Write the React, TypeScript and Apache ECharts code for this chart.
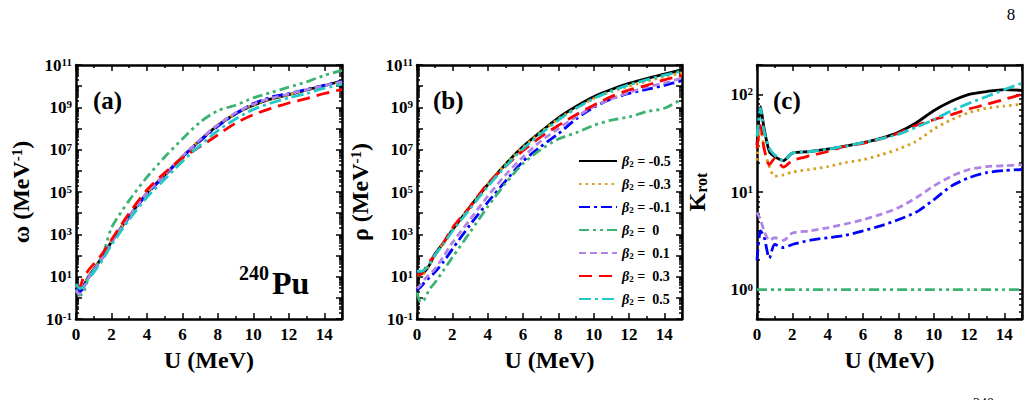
import React, { useEffect, useRef } from 'react';
import * as echarts from 'echarts';

// Excitation energy grid U (MeV)
const energies = [0, 0.2, 0.4, 0.7, 1, 1.5, 2, 3, 4, 5, 6, 7, 8, 9, 10, 11, 12, 13, 14, 15];

// Quadrupole deformations
const betaLabels = ['-0.5', '-0.3', '-0.1', '0', '0.1', '0.3', '0.5'];
const seriesNames = betaLabels.map((b) => `β2 = ${b}`);
const lineColors = ['#000000', '#d6a01e', '#0000ff', '#3cb371', '#b084e6', '#ff0000', '#20c8c8'];
const lineDashes: (string | number[])[] = ['solid', [2.5, 4], [11, 4, 3, 4], [10, 4, 3, 4, 3, 4], [7, 4], [13, 7], [12, 4, 3, 4]];

// (a) intrinsic level density ω (MeV^-1)
const omegaM05 = [4, 2, 3.2, 10, 22, 89, 450, 7.1e3, 8.9e4, 6.3e5, 4.5e6, 2.8e7, 1.4e8, 5e8, 1.26e9, 2.5e9, 4e9, 6.6e9, 1.05e10, 1.8e10];
const omegaM03 = [4, 2, 3, 10, 22, 90, 480, 7.5e3, 9.5e4, 7e5, 5e6, 3e7, 1.5e8, 5e8, 1.3e9, 2.5e9, 4e9, 6.5e9, 1e10, 1.6e10];
const omegaM01 = [3, 1.8, 3, 9, 20, 80, 420, 6.5e3, 8e4, 6e5, 4.5e6, 2.6e7, 1.3e8, 5e8, 1.5e9, 3e9, 4.5e9, 7e9, 1.1e10, 1.7e10];
const omegaP00 = [2.5, 1.3, 1.6, 8, 20, 100, 2e3, 4e4, 5e5, 4.5e6, 3.2e7, 2e8, 7e8, 1.26e9, 2.8e9, 5e9, 9e9, 1.6e10, 3.2e10, 5.6e10];
const omegaP01 = [2.2, 1.5, 2.5, 9, 20, 80, 420, 7e3, 9e4, 6.5e5, 4.8e6, 3e7, 1.5e8, 5.5e8, 1.4e9, 2.7e9, 4.2e9, 6.8e9, 1.05e10, 1.6e10];
const omegaP03 = [4, 3.2, 8, 20, 40, 126, 560, 1e4, 1.26e5, 8e5, 4e6, 1.4e7, 5e7, 1.8e8, 4.5e8, 9e8, 1.6e9, 2.6e9, 4.5e9, 7e9];
const omegaP05 = [4.5, 2.8, 3.2, 8, 16, 63, 320, 5e3, 5.6e4, 4e5, 2.8e6, 1.6e7, 8e7, 2.8e8, 8e8, 1.6e9, 2.8e9, 4.5e9, 8e9, 1.26e10];

// (b) total level density ρ (MeV^-1)
const rhoM05 = [14, 14, 16, 35, 112, 400, 1.6e3, 2e4, 2.2e5, 2e6, 1.4e7, 7e7, 3.2e8, 1.1e9, 3.2e9, 7e9, 1.35e10, 2.3e10, 3.7e10, 6e10];
const rhoM03 = [12, 12, 14, 32, 100, 400, 1.6e3, 2e4, 2.2e5, 2e6, 1.3e7, 6.5e7, 2.8e8, 9e8, 2.6e9, 5.5e9, 1e10, 1.7e10, 2.8e10, 4.2e10];
const rhoM01 = [2.2, 3.2, 5, 9, 16, 50, 200, 2.8e3, 3.2e4, 3.2e5, 2.8e6, 1.4e7, 5.6e7, 2.8e8, 1e9, 2.5e9, 4.5e9, 7e9, 1.1e10, 1.8e10];
const rhoP00 = [1.8, 0.63, 0.8, 2.5, 5, 20, 80, 1.26e3, 2e4, 2.5e5, 2.2e6, 1e7, 3.2e7, 6.3e7, 1.4e8, 2.5e8, 3.5e8, 6.3e8, 9e8, 2.5e9];
const rhoP01 = [2.8, 4, 7, 12.6, 22, 90, 400, 5e3, 6.3e4, 6.3e5, 4.5e6, 2.5e7, 1e8, 3.5e8, 1.1e9, 2.5e9, 5e9, 9e9, 1.4e10, 2.4e10];
const rhoP03 = [12.6, 12.6, 20, 50, 100, 400, 2e3, 2e4, 2.5e5, 1.6e6, 9e6, 4e7, 1.4e8, 4.5e8, 1.26e9, 3.2e9, 6.6e9, 1.1e10, 2e10, 3.2e10];
const rhoP05 = [18, 18, 20, 40, 100, 350, 1.4e3, 1.6e4, 1.8e5, 1.6e6, 1.1e7, 5.6e7, 2.5e8, 8.9e8, 2.6e9, 6e9, 1.15e10, 2e10, 3.3e10, 5.2e10];

// (c) rotational enhancement factor K_rot
const krotM05 = [30, 75, 45, 26, 23, 21, 25, 26, 27.5, 29.5, 32, 35.5, 41, 51, 68, 85, 100, 107, 112, 110];
const krotM03 = [21, 49, 28, 18, 14.5, 15, 16, 17, 18.2, 20, 21.4, 24, 27.5, 33, 44, 55, 65, 72, 76, 79];
const krotM01 = [2.0, 4, 3.5, 2.1, 2.9, 2.7, 2.9, 3.2, 3.4, 3.6, 4, 4.5, 5.2, 6.2, 8.3, 11.5, 14, 15.8, 16.6, 17];
const krotP00 = [1, 1, 1, 1, 1, 1, 1, 1, 1, 1, 1, 1, 1, 1, 1, 1, 1, 1, 1, 1];
const krotP01 = [6.2, 5.2, 4, 3.2, 3.4, 3.2, 3.8, 4, 4.3, 4.7, 5.2, 5.9, 6.9, 8.7, 11.5, 14.5, 17, 18.2, 18.6, 19];
const krotP03 = [28, 48, 28, 19, 22, 18, 21, 23.5, 26, 29.5, 31.5, 35, 40, 48, 55, 62, 71, 79, 89, 100];
const krotP05 = [37, 72, 42, 28, 24, 21, 25, 26, 27.5, 29.5, 32, 35, 39, 46, 55, 68, 81, 95, 112, 130];

const omegaSets = [omegaM05, omegaM03, omegaM01, omegaP00, omegaP01, omegaP03, omegaP05];
const rhoSets = [rhoM05, rhoM03, rhoM01, rhoP00, rhoP01, rhoP03, rhoP05];
const krotSets = [krotM05, krotM03, krotM01, krotP00, krotP01, krotP03, krotP05];

const xTicks = { min: 0, max: 15, interval: 2 };

const FONT = '"Liberation Serif", "Times New Roman", serif';

const panelGrids = [
  { left: 76, top: 65, width: 266, height: 254 },
  { left: 417, top: 65, width: 265, height: 254 },
  { left: 757, top: 65, width: 265, height: 254 },
];

const supRich = {
  b: { fontFamily: FONT, fontWeight: 'bold', fontSize: 17, color: '#000' },
  s: { fontFamily: FONT, fontWeight: 'bold', fontSize: 11, color: '#000', verticalAlign: 'top' },
};

const lineAxis = { show: true, onZero: false, lineStyle: { color: '#000', width: 2.5 } };
const tickStyle = { color: '#000', width: 1.5 };

function powerLabel(value: number, every: number, offset: number) {
  const exp = Math.round(Math.log10(value));
  if (((exp - offset) % every + every) % every !== 0) return '';
  return `{b|10}{s|${exp}}`;
}

function buildOption() {
  const xAxes: any[] = [];
  const yAxes: any[] = [];
  const titles = ['{t|ω (MeV}{s|-1}{t|)}', '{t|ρ (MeV}{s|-1}{t|)}', '{t|K}{r|rot}'];
  const nameGaps = [43, 45, 48];
  const titleRich = {
    t: { fontFamily: FONT, fontWeight: 'bold', fontSize: 24, color: '#000' },
    s: { fontFamily: FONT, fontWeight: 'bold', fontSize: 15, color: '#000', verticalAlign: 'top' },
    r: { fontFamily: FONT, fontWeight: 'bold', fontSize: 16, color: '#000', verticalAlign: 'bottom' },
  };

  panelGrids.forEach((_, i) => {
    const base = {
      type: 'value',
      gridIndex: i,
      ...xTicks,
      axisLine: lineAxis,
      axisTick: { inside: true, length: 6, lineStyle: tickStyle },
      minorTick: { show: true, splitNumber: 2, length: 3, lineStyle: tickStyle },
      splitLine: { show: false },
    };
    xAxes.push({
      ...base,
      position: 'bottom',
      name: 'U (MeV)',
      nameLocation: 'middle',
      nameGap: 28,
      nameTextStyle: { fontFamily: FONT, fontWeight: 'bold', fontSize: 24, color: '#000' },
      axisLabel: { fontFamily: FONT, fontWeight: 'bold', fontSize: 17, color: '#000', margin: 7, showMaxLabel: false },
    });
    xAxes.push({ ...base, position: 'top', axisLabel: { show: false } });

    const isK = i === 2;
    const ybase: any = {
      type: 'log',
      logBase: 10,
      gridIndex: i,
      min: isK ? 0.5 : 0.1,
      max: isK ? 200 : 1e11,
      axisLine: lineAxis,
      axisTick: { inside: true, length: 6, lineStyle: tickStyle },
      minorTick: { show: true, splitNumber: 9, length: 3, lineStyle: tickStyle },
      splitLine: { show: false },
    };
    // decade ticks; the K_rot axis gets them from its own nice-tick pass
    if (!isK) ybase.interval = 1;
    yAxes.push({
      ...ybase,
      position: 'left',
      name: titles[i],
      nameLocation: 'middle',
      nameRotate: 90,
      nameGap: nameGaps[i],
      nameTextStyle: { rich: titleRich },
      axisLabel: {
        margin: 4,
        showMinLabel: !isK,
        showMaxLabel: !isK,
        formatter: (v: number) => (isK ? powerLabel(v, 1, 0) : powerLabel(v, 2, 1)),
        rich: supRich,
      },
    });
    yAxes.push({ ...ybase, position: 'right', axisLabel: { show: false } });
  });

  const panels = [omegaSets, rhoSets, krotSets];
  const series: any[] = [];
  panels.forEach((sets, p) => {
    sets.forEach((vals, k) => {
      series.push({
        type: 'line',
        name: seriesNames[k],
        xAxisIndex: p * 2,
        yAxisIndex: p * 2,
        data: energies.map((u, j) => [u, vals[j]]),
        symbol: 'none',
        smooth: 0.25,
        lineStyle: { color: lineColors[k], width: 2.8, type: lineDashes[k] },
        itemStyle: { color: lineColors[k] },
      });
    });
  });

  const textBold = (text: string, x: number, y: number, size: number, align = 'left', va = 'middle', weight = 'bold') => ({
    type: 'text',
    x,
    y,
    style: { text, fontFamily: FONT, fontWeight: weight, fontSize: size, fill: '#000', align, verticalAlign: va },
  });

  return {
    animation: false,
    backgroundColor: '#ffffff',
    grid: panelGrids.map((g) => ({ ...g, containLabel: false })),
    xAxis: xAxes,
    yAxis: yAxes,
    legend: {
      orient: 'vertical',
      left: 573,
      top: 149,
      itemWidth: 38,
      itemHeight: 14,
      itemGap: 9,
      itemStyle: { opacity: 0 },
      data: seriesNames,
      formatter: (name: string) => {
        const b = name.split('= ')[1];
        const val = b.startsWith('-') ? b : '\u00a0' + b;
        return `{g|β}{n|2}{t| = ${val}}`;
      },
      textStyle: {
        rich: {
          g: { fontFamily: FONT, fontWeight: 'bold', fontStyle: 'italic', fontSize: 14, color: '#000' },
          n: { fontFamily: FONT, fontWeight: 'bold', fontSize: 9, color: '#000', verticalAlign: 'bottom' },
          t: { fontFamily: FONT, fontWeight: 'bold', fontSize: 14, color: '#000' },
        },
      },
    },
    graphic: [
      textBold('(a)', 93, 100, 25),
      textBold('(b)', 433, 100, 25),
      textBold('(c)', 773, 100, 25),
      textBold('240', 239, 263, 20, 'left', 'top'),
      textBold('Pu', 272, 267, 32, 'left', 'top'),
      textBold('8', 1011, 14, 17, 'center', 'middle', 'normal'),
      textBold('240', 973, 396, 14, 'left', 'top', 'normal'),
    ],
    series,
  };
}

export default function App() {
  const ref = useRef<HTMLDivElement>(null);
  useEffect(() => {
    if (!ref.current) return;
    const chart = echarts.init(ref.current, undefined, { renderer: 'svg' });
    chart.setOption(buildOption() as any);
    return () => chart.dispose();
  }, []);
  return <div ref={ref} style={{ position: 'absolute', left: 0, top: 0, width: 1029, height: 400 }} />;
}
